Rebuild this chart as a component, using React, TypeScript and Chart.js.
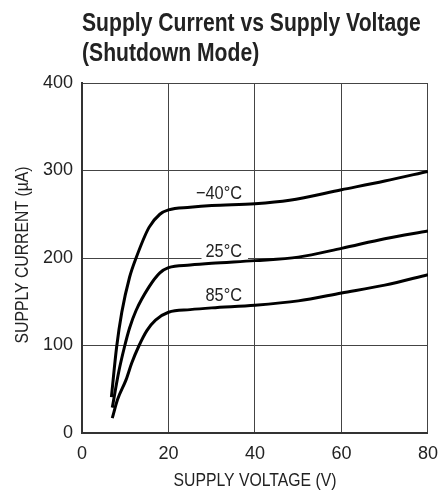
import React, { useEffect, useRef } from "react";
import { Chart, registerables } from "chart.js";

Chart.register(...registerables);

const titleLines = ["Supply Current vs Supply Voltage", "(Shutdown Mode)"];
const xTitle = "SUPPLY VOLTAGE (V)";
const yTitle = "SUPPLY CURRENT (\u00b5A)";
const xTicks = [0, 20, 40, 60, 80];
const yTicks = [0, 100, 200, 300, 400];

const seriesLabels = ["\u221240\u00b0C", "25\u00b0C", "85\u00b0C"];

const voltM40 = [6.8, 8, 9.2, 11, 12.5, 15.5, 18, 20, 25, 30, 40, 48, 60, 70, 80];
const currM40 = [41, 98, 138, 178, 200, 235, 250, 255, 258, 260, 262, 266, 278, 288, 299];

const volt25 = [7, 8.5, 9.8, 11, 12.5, 15.5, 18, 20, 25, 30, 40, 50, 60, 70, 80];
const curr25 = [29, 70, 98, 120, 140, 167, 183, 189, 192, 194, 197, 201, 211, 222, 231];

const volt85 = [7, 8.2, 10.2, 11.5, 13.2, 15, 17, 20, 25, 30, 40, 50, 60, 70, 80];
const curr85 = [17, 38, 61, 80, 100, 117, 129, 138, 141, 143, 146, 151, 160, 169, 181];

// label anchor positions (data coords): right-aligned x, centre y
const labelV = [37, 37, 37];
const labelI = [274, 208, 158];

const FONT = '"Liberation Sans", Arial, sans-serif';
const TEXT = "#222222";

function pts(v: number[], c: number[]) {
  return v.map((x, i) => ({ x, y: c[i] }));
}

function narrowText(ctx: any, text: string, x: number, y: number, sx: number, align: "left" | "right" | "center", rot = 0) {
  ctx.save();
  ctx.translate(x, y);
  if (rot) ctx.rotate(rot);
  ctx.scale(sx, 1);
  ctx.textAlign = align;
  ctx.fillText(text, 0, 0);
  ctx.restore();
}

const overlayPlugin = {
  id: "overlay",
  afterDatasetsDraw(chart: any) {
    const { ctx, scales } = chart;
    ctx.save();
    ctx.font = `19px ${FONT}`;
    ctx.textBaseline = "middle";
    seriesLabels.forEach((t, i) => {
      const x = scales.x.getPixelForValue(labelV[i]);
      const y = scales.y.getPixelForValue(labelI[i]);
      const w = ctx.measureText(t).width * 0.86;
      ctx.fillStyle = "#ffffff";
      ctx.fillRect(x - w - 4, y - 9, w + 10, 17);
      ctx.fillStyle = TEXT;
      narrowText(ctx, t, x, y + 1, 0.86, "right");
    });
    ctx.restore();
  },
  afterDraw(chart: any) {
    const { ctx, chartArea } = chart;
    ctx.save();
    ctx.fillStyle = TEXT;
    ctx.textBaseline = "alphabetic";
    ctx.font = `bold 25px ${FONT}`;
    narrowText(ctx, titleLines[0], 82, 31, 0.845, "left");
    narrowText(ctx, titleLines[1], 82, 61, 0.845, "left");
    ctx.font = `19px ${FONT}`;
    ctx.textBaseline = "middle";
    narrowText(ctx, xTitle, (chartArea.left + chartArea.right) / 2, 481, 0.83, "center");
    narrowText(ctx, yTitle, 23, (chartArea.top + chartArea.bottom) / 2 - 3, 0.83, "center", -Math.PI / 2);
    ctx.restore();
  },
};

export default function App() {
  const ref = useRef<HTMLCanvasElement | null>(null);
  useEffect(() => {
    if (!ref.current) return;
    const line = (d: any[]) => ({
      data: d,
      borderColor: "#000000",
      borderWidth: 3,
      pointRadius: 0,
      fill: false,
      tension: 0.4,
      cubicInterpolationMode: "monotone" as const,
    });
    const chart = new Chart(ref.current, {
      type: "line",
      data: {
        datasets: [
          { label: seriesLabels[0], ...line(pts(voltM40, currM40)) },
          { label: seriesLabels[1], ...line(pts(volt25, curr25)) },
          { label: seriesLabels[2], ...line(pts(volt85, curr85)) },
        ],
      },
      options: {
        animation: false,
        responsive: false,
        layout: { padding: { top: 83, right: 14, left: 0, bottom: 0 } },
        plugins: { legend: { display: false }, tooltip: { enabled: false }, title: { display: false } },
        scales: {
          x: {
            type: "linear",
            min: 0,
            max: 80,
            afterBuildTicks: (s: any) => {
              s.ticks = xTicks.map((v) => ({ value: v }));
            },
            afterFit: (s: any) => {
              s.height = 61;
            },
            grid: { color: "#444444", lineWidth: 1, drawTicks: false },
            border: { color: "#333333", width: 2 },
            ticks: { color: TEXT, font: { family: FONT, size: 18 }, padding: 10, maxRotation: 0 },
          },
          y: {
            type: "linear",
            min: 0,
            max: 400,
            afterBuildTicks: (s: any) => {
              s.ticks = yTicks.map((v) => ({ value: v }));
            },
            afterFit: (s: any) => {
              s.width = 82;
            },
            grid: { color: "#444444", lineWidth: 1, drawTicks: false },
            border: { color: "#333333", width: 2 },
            ticks: { color: TEXT, font: { family: FONT, size: 18 }, padding: 9 },
          },
        },
      },
      plugins: [overlayPlugin],
    });
    return () => chart.destroy();
  }, []);
  return (
    <div style={{ position: "fixed", left: 0, top: 0, width: 448, height: 494, background: "#fff" }}>
      <canvas ref={ref} width={448} height={494} style={{ width: 448, height: 494, display: "block" }} />
    </div>
  );
}
